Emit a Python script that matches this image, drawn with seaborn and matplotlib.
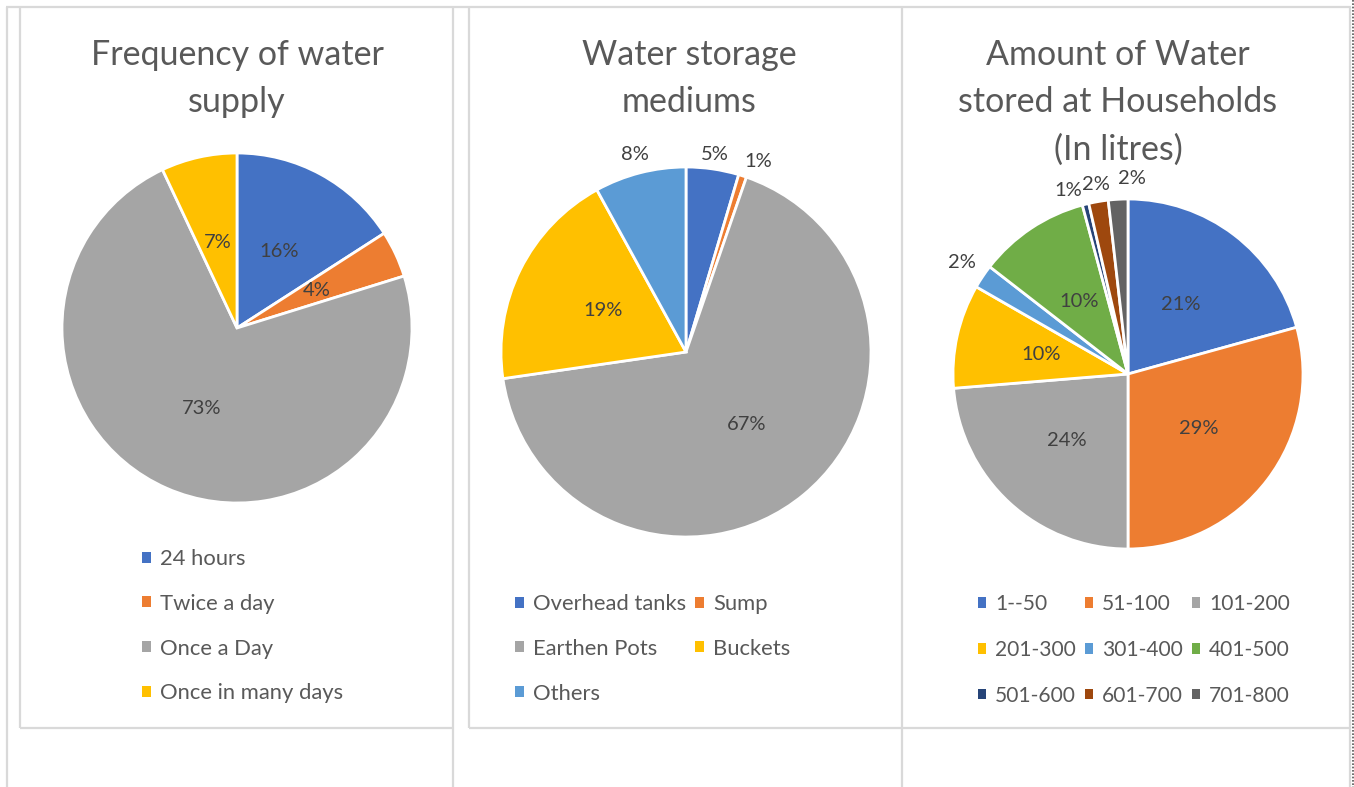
import matplotlib
matplotlib.use("Agg")
import numpy as np
import matplotlib.pyplot as plt
from matplotlib.patches import Rectangle
import seaborn as sns

# ---- data -------------------------------------------------------------
supply_labels = ["24 hours", "Twice a day", "Once a Day", "Once in many days"]
supply_share = [15.9, 4.3, 72.8, 7.0]

storage_labels = ["Overhead tanks", "Sump", "Earthen Pots", "Buckets", "Others"]
storage_share = [4.6, 0.7, 67.4, 19.3, 8.0]

amount_labels = ["1--50", "51-100", "101-200", "201-300", "301-400",
                 "401-500", "501-600", "601-700", "701-800"]
amount_share = [20.7, 29.3, 23.7, 9.6, 2.2, 10.3, 0.6, 1.8, 1.8]

titles = ["Frequency of water\nsupply",
          "Water storage\nmediums",
          "Amount of Water\nstored at Households\n(In litres)"]

# ---- style ------------------------------------------------------------
sns.set_theme(style="white")
plt.rcParams["font.family"] = ["Lato", "DejaVu Sans"]
office = sns.color_palette(["#4472C4", "#ED7D31", "#A5A5A5", "#FFC000", "#5B9BD5",
                            "#70AD47", "#264478", "#9E480E", "#636363"])

TITLE_C = "#595959"
LABEL_C = "#404040"
GRID_C = "#d9d9d9"

W, H = 1354, 787
fig = plt.figure(figsize=(W / 100, H / 100), dpi=100)
fig.patch.set_facecolor("white")

# pixel-space canvas for the table frame and the titles
bg = fig.add_axes([0, 0, 1, 1], zorder=0)
bg.set_xlim(0, W)
bg.set_ylim(H, 0)
bg.axis("off")

def hline(y, x0, x1, **kw):
    bg.plot([x0, x1], [y, y], color=GRID_C, lw=1.6, solid_capstyle="butt", **kw)

def vline(x, y0, y1, **kw):
    bg.plot([x, x], [y0, y1], color=GRID_C, lw=1.6, solid_capstyle="butt", **kw)

# table grid
hline(7, 6, 1351)
for x in (7, 453, 902, 1350):
    vline(x, 7, H)
# chart frames
vline(20, 7, 728)
hline(728, 20, 453)
vline(469, 7, 728)
hline(728, 469, 902)
hline(728, 902, 1350)
bg.plot([1353, 1353], [0, H], color="#555555", lw=1.2, ls=(0, (1, 1)))

M = 1.25  # axes half-extent in pie radii


def pie_axes(cx, cy, r):
    return fig.add_axes([(cx - M * r) / W, 1 - (cy + M * r) / H,
                         2 * M * r / W, 2 * M * r / H], zorder=2)


def draw_pie(cx, cy, r, values, labels, colors, factors, nudges):
    ax = pie_axes(cx, cy, r)
    wedges, _ = ax.pie(values, colors=colors, startangle=90, counterclock=False,
                       wedgeprops=dict(edgecolor="white", linewidth=2.0))
    for w in wedges:
        w.set_clip_on(False)
    for w, v, f, d in zip(wedges, values, factors, nudges):
        mid = np.deg2rad((w.theta1 + w.theta2) / 2 - d)
        ax.text(f * np.cos(mid), f * np.sin(mid), f"{v:.0f}%", ha="center",
                va="center", fontsize=14.5, color=LABEL_C)
    ax.set_xlim(-M, M)
    ax.set_ylim(-M, M)
    ax.set_aspect("equal")
    ax.axis("off")
    return ax


def add_legend(ax, labels, colors, x, y, ncol, order, size=15.8, spacing=1.13):
    handles = [Rectangle((0, 0), 1, 1, facecolor=colors[i], edgecolor="none") for i in order]
    labs = [labels[i] for i in order]
    ax.legend(handles, labs, loc="upper left", bbox_to_anchor=(x, y),
              bbox_transform=bg.transData, ncol=ncol, frameon=False,
              borderpad=0, borderaxespad=0, handlelength=0.4, handleheight=0.4,
              handletextpad=0.42, labelspacing=spacing, columnspacing=0.42,
              fontsize=size, labelcolor=TITLE_C)


# chart 1
ax1 = draw_pie(237, 328, 175, supply_share, supply_labels, office[:4],
               [0.5] * 4, [0] * 4)
add_legend(ax1, supply_labels, office[:4], 142, 549, 1, [0, 1, 2, 3])

# chart 2
ax2 = draw_pie(686, 352, 185, storage_share, storage_labels, office[:5],
               [1.08, 1.1, 0.51, 0.5, 1.1], [0, 3, 0, 0, 0])
add_legend(ax2, storage_labels, office[:5], 515, 594, 2, [0, 2, 4, 1, 3])

# chart 3
ax3 = draw_pie(1128, 374, 175, amount_share, amount_labels, office[:9],
               [0.5, 0.51, 0.52, 0.51, 1.14, 0.5, 1.1, 1.1, 1.12],
               [0, 0, 0, 0, 0, 0, -4, 0, 4.5])
add_legend(ax3, amount_labels, office[:9], 978, 594, 3, [0, 3, 6, 1, 4, 7, 2, 5, 8],
           size=15.1, spacing=1.23)

# titles (anchored at the baseline of the last line)
for (tx, ty), t in zip([(237, 112), (689, 112), (1118, 160)], titles):
    bg.text(tx, ty, t, ha="center", va="baseline", fontsize=24.5,
            color=TITLE_C, linespacing=1.59, multialignment="center")

fig.savefig("out.png", dpi=100, facecolor="white")
